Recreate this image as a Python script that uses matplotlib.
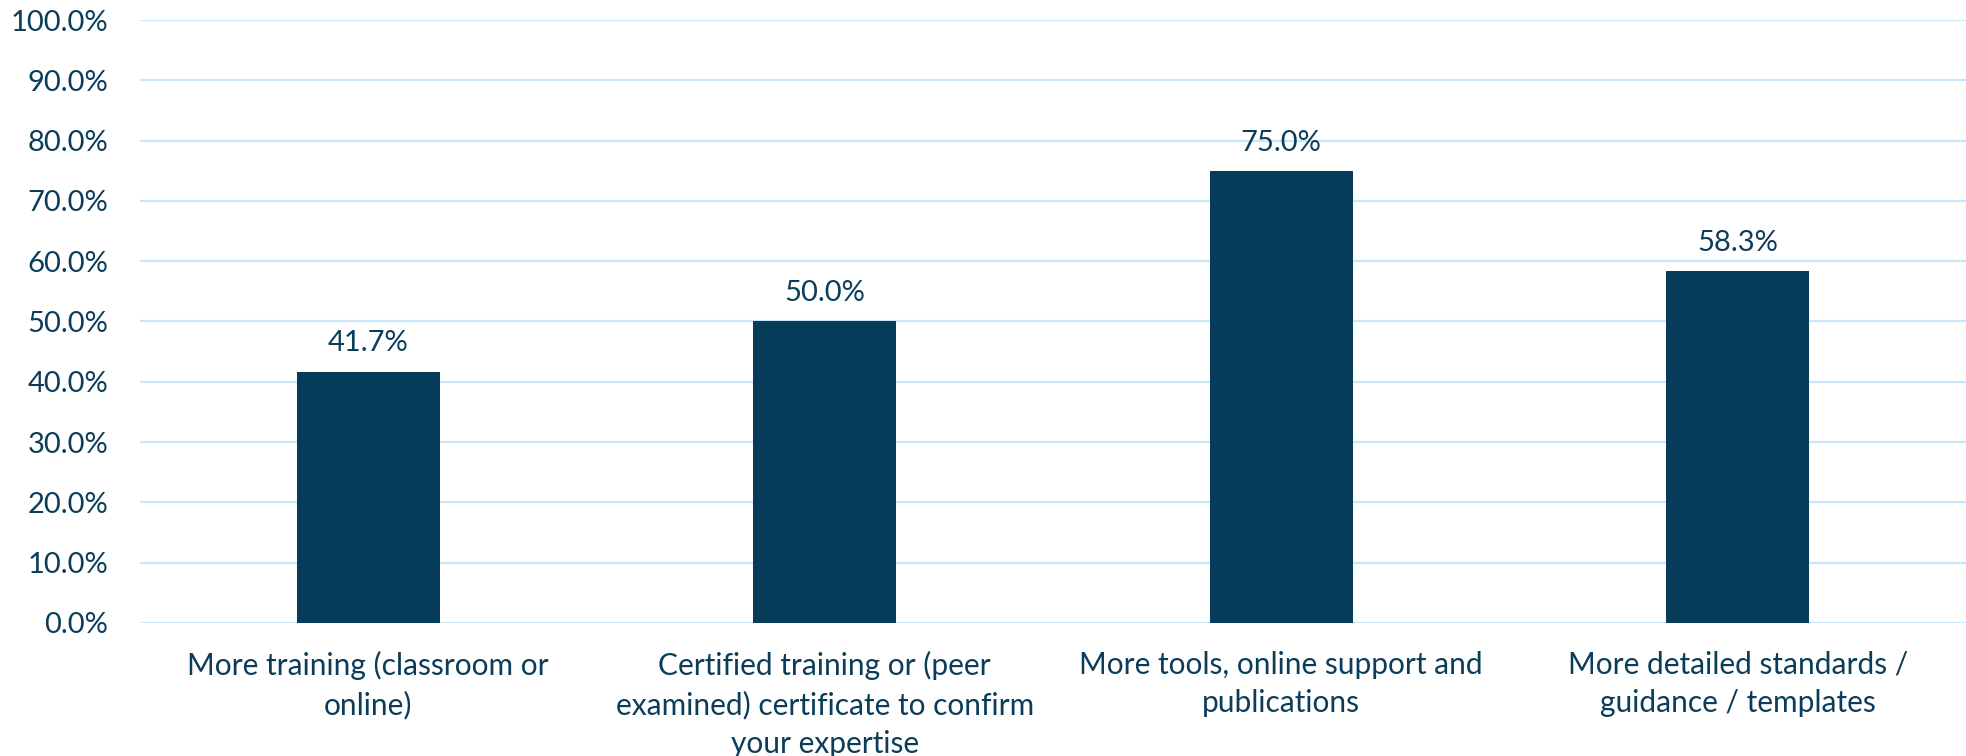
import matplotlib
matplotlib.use('Agg')
import matplotlib.pyplot as plt
import numpy as np

categories = [
    "More training (classroom or\nonline)",
    "Certified training or (peer\nexamined) certificate to confirm\nyour expertise",
    "More tools, online support and\npublications",
    "More detailed standards /\nguidance / templates",
]
values = [41.7, 50.0, 75.0, 58.3]
y_ticks = [0, 10, 20, 30, 40, 50, 60, 70, 80, 90, 100]

bar_color = "#063c59"
text_color = "#0b3d5b"
grid_color = "#c8e8fa"

plt.rcParams['font.family'] = ['Lato', 'DejaVu Sans']

fig = plt.figure(figsize=(19.66, 7.56), dpi=100)
ax = fig.add_axes([0.0712, 0.176, 0.9288, 0.7975])

x = np.arange(len(categories))
ax.bar(x, values, width=0.3125, color=bar_color, zorder=3)

# value labels above bars
for xi, v in zip(x, values):
    ax.annotate(f"{v:.1f}%", (xi, v), xytext=(0, 14.5), textcoords='offset points',
                ha='center', va='baseline', fontsize=21, color=text_color)

ax.set_xlim(-0.5, len(categories) - 0.5)
ax.set_ylim(0, 100)
ax.set_yticks(y_ticks)
ax.set_yticklabels([f"{t:.1f}%" for t in y_ticks])
ax.set_xticks(x)
ax.set_xticklabels(categories, linespacing=1.45)

ax.tick_params(axis='y', length=0, pad=23, labelsize=21, labelcolor=text_color)
ax.tick_params(axis='x', length=0, pad=20, labelsize=21.5, labelcolor=text_color)

ax.grid(axis='y', color=grid_color, linewidth=1.6, zorder=0)
ax.set_axisbelow(True)
for s in ax.spines.values():
    s.set_visible(False)

fig.savefig("out.png", dpi=100)
plt.close(fig)
